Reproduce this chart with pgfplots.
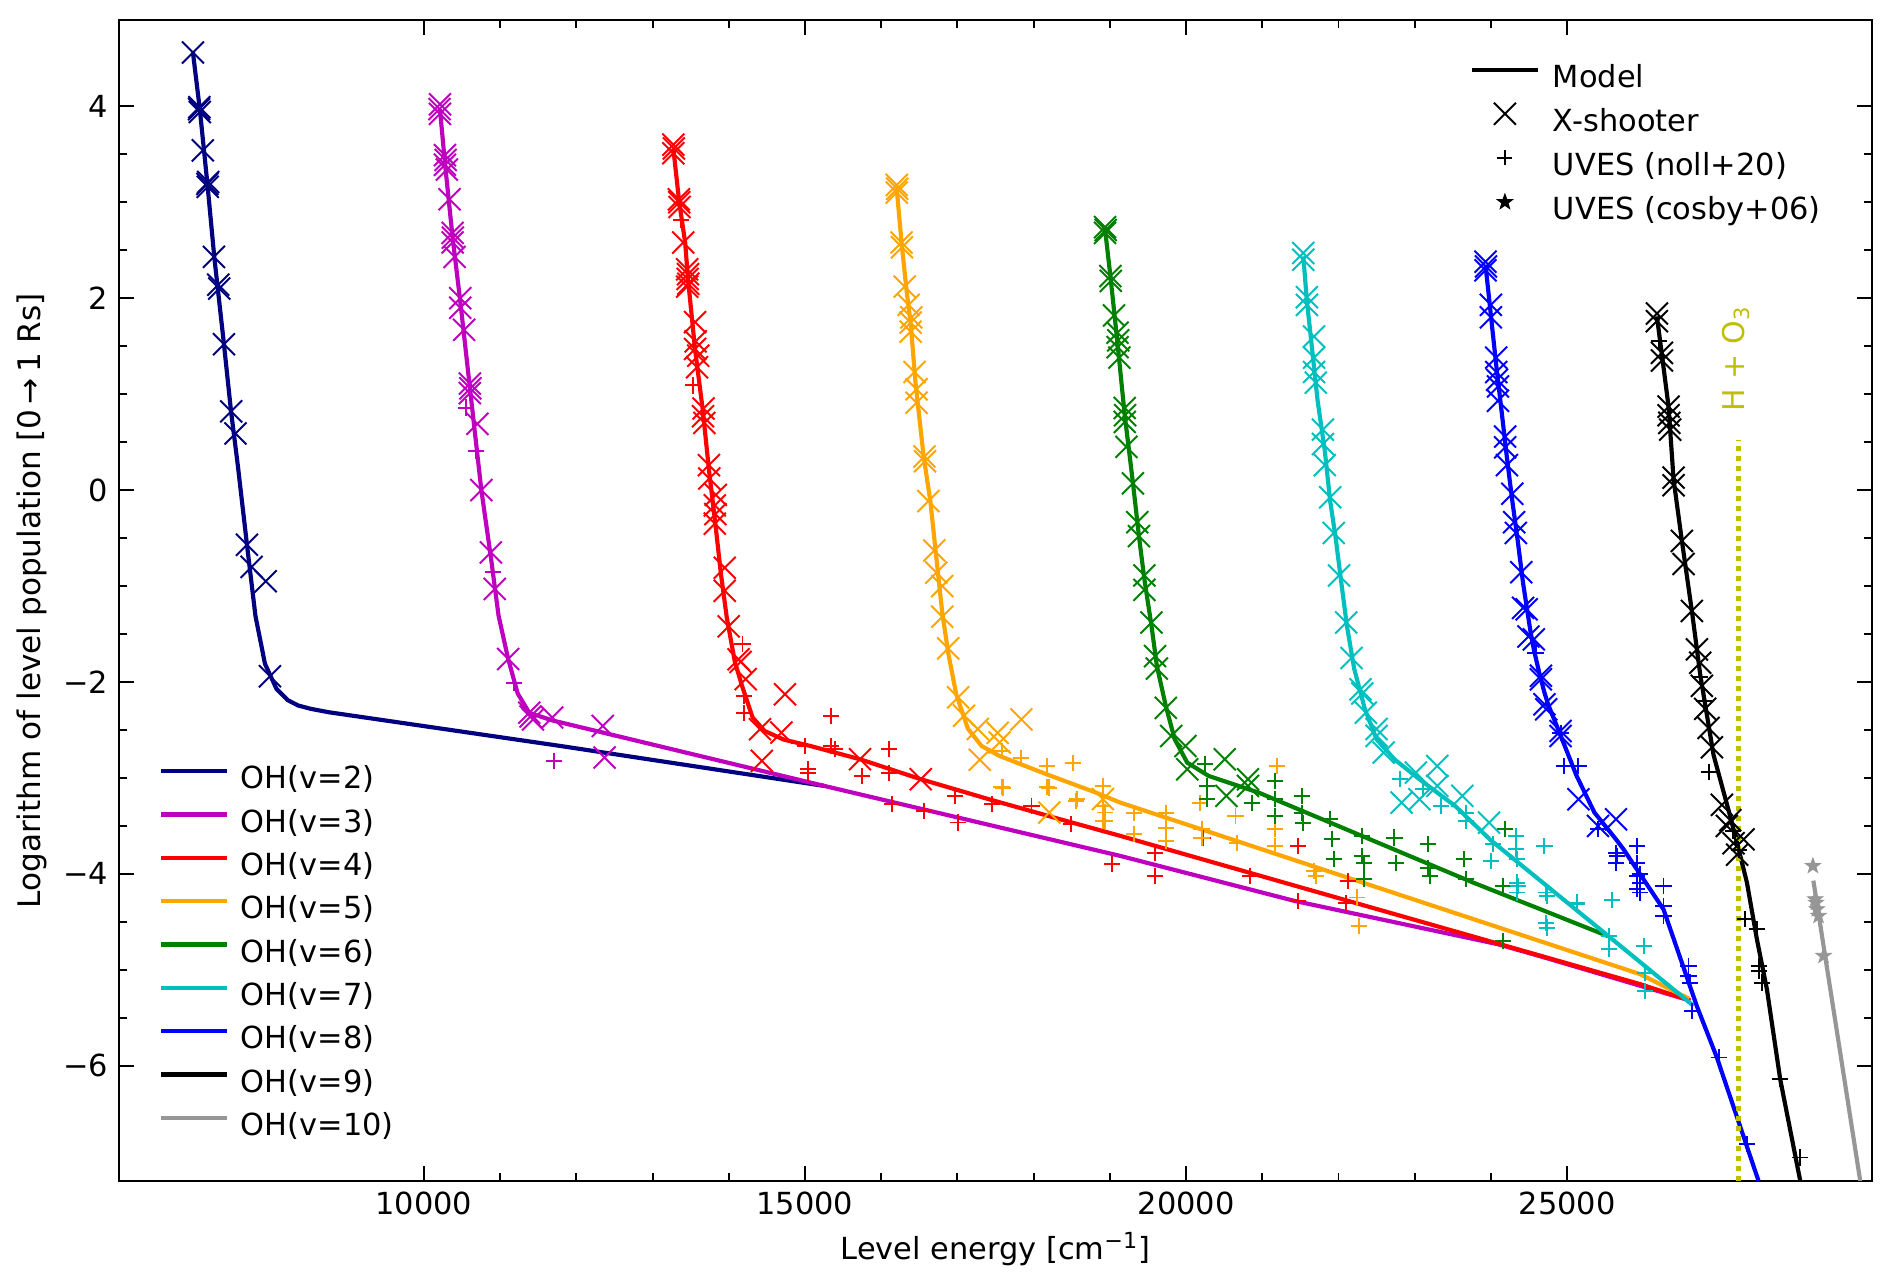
\documentclass[border=0pt,11pt]{standalone}
\usepackage{fontspec}
\setmainfont{DejaVu Sans}
\usepackage{pgfplots}
\pgfplotsset{compat=1.18}
\definecolor{cnavy}{RGB}{0,0,128}
\definecolor{cmag}{RGB}{191,0,191}
\definecolor{cred}{RGB}{255,0,0}
\definecolor{corange}{RGB}{255,165,0}
\definecolor{cgreen}{RGB}{0,128,0}
\definecolor{ccyan}{RGB}{0,191,191}
\definecolor{cblue}{RGB}{0,0,255}
\definecolor{cgray}{RGB}{150,150,150}
\definecolor{colive}{RGB}{191,191,0}
\pgfdeclareplotmark{fstar}{%
  \pgfpathmoveto{\pgfpointpolar{90}{\pgfplotmarksize}}%
  \pgfpathlineto{\pgfpointpolar{126}{0.4\pgfplotmarksize}}%
  \pgfpathlineto{\pgfpointpolar{162}{\pgfplotmarksize}}%
  \pgfpathlineto{\pgfpointpolar{198}{0.4\pgfplotmarksize}}%
  \pgfpathlineto{\pgfpointpolar{234}{\pgfplotmarksize}}%
  \pgfpathlineto{\pgfpointpolar{270}{0.4\pgfplotmarksize}}%
  \pgfpathlineto{\pgfpointpolar{306}{\pgfplotmarksize}}%
  \pgfpathlineto{\pgfpointpolar{342}{0.4\pgfplotmarksize}}%
  \pgfpathlineto{\pgfpointpolar{18}{\pgfplotmarksize}}%
  \pgfpathlineto{\pgfpointpolar{54}{0.4\pgfplotmarksize}}%
  \pgfpathclose\pgfusepathqfillstroke}
\pgfplotsset{
  model/.style={line width=1.5pt, mark=none, forget plot},
  xs/.style={only marks, mark=x, mark size=5.6pt, mark options={line width=0.7pt}, forget plot},
  uv/.style={only marks, mark=+, mark size=2.9pt, mark options={line width=0.7pt}, forget plot},
  cs/.style={only marks, mark=fstar, mark size=2.9pt, mark options={line width=0.3pt}, forget plot},
}
\begin{document}
\begin{tikzpicture}
\useasboundingbox (-42.84pt,-37.44pt) rectangle (638.28pt,425.16pt);
\begin{axis}[
  at={(0pt,0pt)}, anchor=south west,
  scale only axis, width=631.1pt, height=418pt,
  xmin=6000, xmax=29000, ymin=-7.2, ymax=4.9,
  scaled x ticks=false,
  xtick={10000,15000,20000,25000}, xticklabels={10000,15000,20000,25000},
  minor x tick num=4,
  ytick={-6,-4,-2,0,2,4}, yticklabels={−6,−4,−2,0,2,4},
  minor y tick num=3,
  tick align=inside,
  major tick length=5.4pt, minor tick length=2.9pt,
  tick style={line width=0.7pt, black},
  axis line style={line width=0.9pt},
  xlabel={Level energy [cm\textsuperscript{−1}]},
  ylabel={Logarithm of level population [0\,→\,1 Rs]},
  x label style={at={(axis description cs:0.5,-0.0584)}, anchor=center},
  y label style={at={(axis description cs:-0.0496,0.4996)}, anchor=center, font=\fontsize{11.2}{13}\selectfont},
  legend image code/.code={\path[draw=none,fill=none] (0pt,-1.55pt) rectangle (26.3pt,7.85pt); \draw[#1] (0pt,3.2pt) -- (23.8pt,3.2pt);},
  legend style={at={(0.0226,0.3645)}, anchor=north west, draw=none, fill=none,
    inner sep=0pt, row sep=0pt,
    nodes={inner sep=2.4pt, text height=8.5pt, text depth=2.2pt}},
  legend cell align=left,
]
% ---------------- v=2 ----------------
\addplot[xs, cnavy] coordinates {(6970,4.56) (7050,3.97) (7060,3.94) (7055,3.99) (7100,3.54) (7160,3.19) (7165,3.16) (7170,3.21) (7246,2.43) (7302,2.14) (7315,2.10) (7377,1.52) (7472,0.82) (7528,0.59) (7679,-0.57) (7739,-0.80) (7925,-0.95) (7980,-1.94)};
\addplot[model, cnavy] coordinates {(6970,4.56) (7060,3.97) (7160,3.19) (7250,2.43) (7377,1.52) (7470,0.82) (7560,0.25) (7679,-0.57) (7790,-1.31) (7915,-1.81) (8065,-2.07) (8216,-2.19) (8350,-2.245) (8518,-2.28) (8750,-2.315) (11785,-2.666) (15253,-3.083)};
% ---------------- v=3 ----------------
\addplot[xs, cmag] coordinates {(10211,4.02) (10211,3.92) (10205,3.97) (10276,3.49) (10276,3.39) (10285,3.44) (10302,3.34) (10337,3.03) (10377,2.68) (10377,2.58) (10380,2.63) (10402,2.43) (10477,2.00) (10477,1.90) (10528,1.67) (10603,1.11) (10603,1.01) (10610,1.06) (10703,0.69) (10754,0.0) (10879,-0.65) (10930,-1.03) (11106,-1.76) (11382,-2.32) (11432,-2.39) (11400,-2.36) (11683,-2.37) (12347,-2.458) (12371,-2.787)};
\addplot[uv, cmag] coordinates {(10553,0.86) (10678,0.41) (10904,-0.85) (11181,-2.01) (11709,-2.82)};
\addplot[model, cmag] coordinates {(10211,3.97) (10276,3.41) (10377,2.63) (10477,1.97) (10603,1.07) (10754,0.0) (10879,-0.70) (10980,-1.31) (11106,-1.76) (11231,-2.12) (11382,-2.32) (11683,-2.40) (12347,-2.527) (15253,-3.083) (19134,-3.812) (21421,-4.281) (24093,-4.733) (24702,-4.871) (26614,-5.32)};
% ---------------- v=4 ----------------
\addplot[xs, cred] coordinates {(13273,3.60) (13273,3.51) (13280,3.56) (13350,3.00) (13355,2.95) (13345,3.03) (13402,2.58) (13454,2.30) (13454,2.12) (13460,2.20) (13465,2.25) (13470,2.15) (13558,1.75) (13558,1.47) (13565,1.55) (13584,1.28) (13600,1.40) (13662,0.77) (13670,0.85) (13680,0.70) (13740,0.26) (13745,0.12) (13817,-0.16) (13817,-0.35) (13825,-0.25) (13830,-0.05) (13947,-0.81) (13947,-1.05) (13999,-1.42) (14128,-1.763) (14155,-1.79) (14222,-1.97) (14410,-2.492) (14433,-2.822) (14691,-2.527) (14738,-2.128) (15722,-2.805) (16519,-3.013)};
\addplot[uv, cred] coordinates {(13376,2.81) (13532,1.09) (14180,-1.6) (14199,-2.145) (14199,-2.319) (14996,-2.666) (15043,-2.909) (15043,-2.944) (15347,-2.353) (15347,-2.666) (15394,-2.70) (15745,-2.978) (16097,-2.70) (16097,-2.944) (16144,-3.273) (16566,-3.343) (16964,-3.187) (17011,-3.464) (17456,-3.273) (17972,-3.291) (18487,-3.482) (19026,-3.898) (19593,-3.778) (19593,-4.021) (20226,-3.621) (20835,-4.021) (21468,-3.708) (21468,-4.281) (22124,-4.073) (22101,-4.299)};
\addplot[model, cred] coordinates {(13273,3.559) (13350,3.0) (13428,2.58) (13464,2.21) (13558,1.466) (13662,0.815) (13740,0.21) (13817,-0.30) (13895,-0.859) (13973,-1.324) (14080,-1.79) (14178,-2.05) (14313,-2.37) (14470,-2.51) (14720,-2.60) (15066,-2.666) (15722,-2.805) (16519,-3.013) (17409,-3.221) (18346,-3.43) (19134,-3.603) (25958,-5.149) (26614,-5.32)};
% ---------------- v=5 ----------------
\addplot[xs, corange] coordinates {(16204,3.18) (16204,3.10) (16210,3.14) (16267,2.58) (16272,2.53) (16308,2.12) (16360,1.93) (16386,1.745) (16386,1.65) (16395,1.80) (16438,1.23) (16464,1.05) (16464,0.91) (16567,0.35) (16575,0.30) (16619,-0.115) (16697,-0.63) (16723,-0.86) (16801,-1.0) (16801,-1.32) (16879,-1.65) (17009,-2.16) (17087,-2.35) (17268,-2.49) (17528,-2.53) (17839,-2.39) (17554,-2.63) (17294,-2.81) (18206,-3.36) (18909,-3.22)};
\addplot[uv, corange] coordinates {(17579,-2.72) (17839,-2.79) (18176,-2.88) (18513,-2.84) (17579,-3.09) (18176,-3.09) (18565,-3.22) (17597,-3.10) (18206,-3.10) (18558,-3.239) (18909,-3.083) (18933,-3.36) (18933,-3.447) (18914,-3.292) (18914,-3.448) (19312,-3.361) (19312,-3.587) (19734,-3.361) (19734,-3.517) (19734,-3.656) (20179,-3.257) (20203,-3.535) (20203,-3.621) (20648,-3.396) (20671,-3.674) (21163,-3.535) (21163,-3.708) (21187,-2.875) (21679,-3.969) (21702,-4.021) (22241,-4.246) (22265,-4.541)};
\addplot[model, corange] coordinates {(16204,3.14) (16267,2.58) (16334,2.07) (16386,1.745) (16453,1.094) (16557,0.35) (16645,-0.115) (16713,-0.627) (16801,-1.278) (16879,-1.696) (16985,-2.13) (17138,-2.487) (17316,-2.666) (17550,-2.77) (18112,-2.944) (18815,-3.152) (19134,-3.256) (25958,-5.045) (26600,-5.30)};
% ---------------- v=6 ----------------
\addplot[xs, cgreen] coordinates {(18937,2.74) (18937,2.68) (18945,2.71) (19007,2.23) (19012,2.18) (19054,1.82) (19101,1.64) (19101,1.49) (19110,1.56) (19125,1.38) (19195,0.855) (19195,0.71) (19200,0.78) (19218,0.45) (19303,0.07) (19359,-0.335) (19382,-0.48) (19453,-0.89) (19453,-1.04) (19546,-1.38) (19593,-1.73) (19617,-1.86) (19734,-2.27) (19804,-2.563) (19992,-2.667) (20015,-2.91) (20507,-2.806) (20530,-3.187) (20812,-3.014) (20812,-3.083)};
\addplot[uv, cgreen] coordinates {(20250,-2.857) (20273,-3.083) (20273,-3.222) (20859,-3.257) (21163,-3.031) (21163,-3.222) (21163,-3.396) (21515,-3.187) (21515,-3.361) (21538,-3.465) (21890,-3.431) (21913,-3.639) (21937,-3.847) (22312,-3.604) (22312,-3.812) (22335,-3.882) (22335,-4.055) (22734,-3.621) (22757,-3.882) (23179,-3.691) (23179,-3.934) (23202,-4.021) (23648,-3.847) (23671,-4.055) (24163,-4.125) (24186,-3.535) (24163,-4.698)};
\addplot[model, cgreen] coordinates {(18937,2.715) (19007,2.232) (19101,1.525) (19195,0.781) (19303,0.074) (19382,-0.484) (19453,-0.93) (19546,-1.414) (19617,-1.833) (19734,-2.25) (19851,-2.597) (20015,-2.84) (20296,-2.979) (20953,-3.153) (21890,-3.465) (22827,-3.778) (23765,-4.09) (24702,-4.385) (25540,-4.65)};
% ---------------- v=7 ----------------
\addplot[xs, ccyan] coordinates {(21538,2.47) (21538,2.40) (21585,2.01) (21585,1.93) (21679,1.60) (21679,1.38) (21679,1.23) (21702,1.12) (21796,0.63) (21796,0.48) (21820,0.26) (21890,-0.075) (21937,-0.447) (22007,-0.89) (22101,-1.38) (22171,-1.75) (22288,-2.076) (22312,-2.12) (22359,-2.32) (22499,-2.49) (22499,-2.562) (22593,-2.736) (22827,-3.257) (23015,-2.944) (23062,-3.222) (23296,-2.875) (23296,-3.083) (23624,-3.187) (23975,-3.465)};
\addplot[uv, ccyan] coordinates {(22804,-3.014) (23109,-3.118) (23343,-3.292) (23671,-3.361) (23671,-3.448) (24022,-3.691) (23999,-3.865) (24327,-3.604) (24327,-3.743) (24340,-3.847) (24340,-4.09) (24340,-4.194) (24350,-4.125) (24702,-3.708) (24725,-4.194) (24725,-4.507) (24733,-4.229) (24733,-4.559) (25124,-4.298) (25127,-4.316) (25586,-4.271) (25546,-4.646) (25543,-4.785) (26002,-4.75) (26024,-5.028) (26024,-5.219)};
\addplot[model, ccyan] coordinates {(21538,2.436) (21585,1.971) (21656,1.45) (21726,0.929) (21820,0.409) (21890,-0.112) (21960,-0.484) (22031,-0.93) (22110,-1.414) (22205,-1.86) (22345,-2.28) (22499,-2.597) (22734,-2.806) (23062,-3.014) (23530,-3.292) (23999,-3.65) (25564,-4.663) (26658,-5.375)};
% ---------------- v=8 ----------------
\addplot[xs, cblue] coordinates {(23929,2.38) (23929,2.29) (23935,2.33) (23999,1.93) (23999,1.80) (24069,1.38) (24069,1.23) (24093,1.08) (24093,0.93) (24080,1.15) (24186,0.558) (24186,0.446) (24210,0.26) (24280,-0.038) (24304,-0.335) (24327,-0.447) (24397,-0.856) (24421,-1.228) (24468,-1.243) (24491,-1.526) (24562,-1.556) (24655,-1.935) (24655,-1.972) (24702,-2.232) (24725,-2.285) (24913,-2.511) (24913,-2.563) (25148,-3.222) (25405,-3.5) (25640,-3.431)};
\addplot[uv, cblue] coordinates {(24585,-1.695) (24913,-2.528) (24960,-2.875) (25148,-2.875) (25405,-3.535) (25640,-3.778) (25640,-3.882) (25652,-3.812) (25921,-3.708) (25921,-3.882) (25921,-4.021) (25921,-4.16) (25958,-4.003) (25958,-4.09) (25958,-4.194) (26264,-4.125) (26264,-4.333) (26264,-4.437) (26592,-4.958) (26592,-5.062) (26614,-5.132) (26636,-5.427) (26986,-5.913) (27358,-6.816)};
\addplot[model, cblue] coordinates {(23929,2.343) (23999,1.822) (24069,1.302) (24140,0.818) (24210,0.334) (24280,-0.112) (24350,-0.521) (24421,-0.968) (24514,-1.451) (24562,-1.66) (24632,-1.898) (24702,-2.111) (24749,-2.232) (24890,-2.51) (25124,-2.979) (25358,-3.361) (25640,-3.639) (25739,-3.743) (26264,-4.37) (26700,-5.375) (26964,-5.913) (27511,-7.2)};
% ---------------- v=9 ----------------
\addplot[xs, black] coordinates {(26177,1.84) (26177,1.76) (26243,1.43) (26243,1.35) (26330,0.87) (26330,0.78) (26340,0.70) (26352,0.63) (26396,0.13) (26396,0.05) (26505,-0.53) (26527,-0.77) (26636,-1.26) (26702,-1.66) (26745,-1.80) (26767,-2.04) (26811,-2.28) (26855,-2.48) (26899,-2.68) (27030,-3.28) (27095,-3.50) (27139,-3.44) (27183,-3.68) (27314,-3.64) (27230,-3.80)};
\addplot[uv, black] coordinates {(26199,1.55) (26745,-1.95) (26790,-2.20) (26855,-2.94) (27180,-3.55) (27260,-3.75) (27336,-4.472) (27489,-4.576) (27511,-4.958) (27511,-5.01) (27555,-5.132) (27795,-6.139) (28058,-6.955)};
\addplot[model, black] coordinates {(26177,1.81) (26243,1.41) (26330,0.87) (26396,0.11) (26505,-0.53) (26636,-1.26) (26745,-1.92) (26920,-2.76) (27139,-3.40) (27250,-3.743) (27358,-4.09) (27489,-4.68) (27620,-5.2) (27795,-6.14) (28058,-7.2)};
% ---------------- v=10 ----------------
\addplot[model, cgray] coordinates {(28230,-4.07) (28845,-7.2)};
\addplot[cs, cgray] coordinates {(28224,-3.917) (28254,-4.264) (28265,-4.30) (28276,-4.368) (28298,-4.437) (28364,-4.854)};
% ---------------- H + O3 ----------------
\addplot[colive, line width=1.8pt, dash pattern=on 1.8pt off 1.8pt, forget plot] coordinates {(27250,-7.2) (27250,0.52)};
\node[rotate=90, text=colive, font=\fontsize{10.8}{13}\selectfont] at (axis cs:27215,1.37) {H + O\textsubscript{3}};
% ---------------- legend ----------------
\addlegendimage{cnavy, line width=1.5pt}\addlegendentry{OH(v=2)}
\addlegendimage{cmag, line width=1.5pt}\addlegendentry{OH(v=3)}
\addlegendimage{cred, line width=1.5pt}\addlegendentry{OH(v=4)}
\addlegendimage{corange, line width=1.5pt}\addlegendentry{OH(v=5)}
\addlegendimage{cgreen, line width=1.5pt}\addlegendentry{OH(v=6)}
\addlegendimage{ccyan, line width=1.5pt}\addlegendentry{OH(v=7)}
\addlegendimage{cblue, line width=1.5pt}\addlegendentry{OH(v=8)}
\addlegendimage{black, line width=1.5pt}\addlegendentry{OH(v=9)}
\addlegendimage{cgray, line width=1.5pt}\addlegendentry{OH(v=10)}
\end{axis}
\begin{axis}[
  at={(0pt,0pt)}, anchor=south west,
  scale only axis, width=631.1pt, height=418pt,
  hide axis, xmin=0, xmax=1, ymin=0, ymax=1,
  legend image code/.code={\path[draw=none,fill=none] (0pt,-1.85pt) rectangle (26.8pt,8.15pt); \draw[mark repeat=2,mark phase=2,#1] plot coordinates {(0pt,3.2pt) (11.9pt,3.2pt) (23.8pt,3.2pt)};},
  legend style={at={(0.7702,0.9695)}, anchor=north west, draw=none, fill=none,
    inner sep=0pt, row sep=0pt,
    nodes={inner sep=2.4pt, text height=8.5pt, text depth=2.2pt}},
  legend cell align=left,
]
\addlegendimage{black, line width=1.5pt}\addlegendentry{Model}
\addlegendimage{only marks, mark=x, mark size=5.6pt, black, mark options={line width=0.7pt}}\addlegendentry{X-shooter}
\addlegendimage{only marks, mark=+, mark size=2.7pt, black, mark options={line width=0.7pt}}\addlegendentry{UVES (noll+20)}
\addlegendimage{only marks, mark=fstar, mark size=2.8pt, black}\addlegendentry{UVES (cosby+06)}
\end{axis}
\end{tikzpicture}
\end{document}
